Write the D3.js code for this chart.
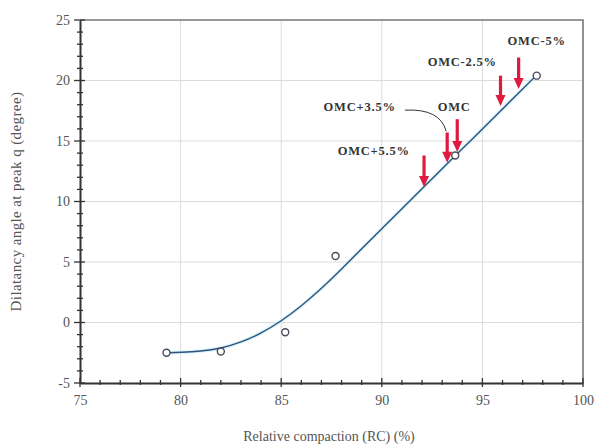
<!DOCTYPE html>
<html>
<head>
<meta charset="utf-8">
<script src="https://cdn.jsdelivr.net/npm/d3@7"></script>
<style>
  body { margin: 0; background: #fff; }
  text { font-family: "Liberation Serif", "DejaVu Serif", serif; }
</style>
</head>
<body>
<div id="chart"></div>
<script>
const w = 599;
const h = 448;
const margin = { top: 20, right: 16, bottom: 65, left: 80 };

// measured points
const rcValues = [79.3, 82.0, 85.2, 87.7, 93.65, 97.7];
const angleValues = [-2.5, -2.4, -0.8, 5.5, 13.8, 20.4];

// fitted curve
const fitRC = [79.3, 80, 81, 82, 83, 84, 85, 86, 87, 88, 89, 90, 91, 92, 93, 94, 95, 96, 97, 97.7];
const fitAngle = [-2.5, -2.47, -2.37, -2.15, -1.65, -0.9, 0.1, 1.35, 2.8, 4.4, 6.1, 7.75, 9.4, 11.05, 12.7, 14.35, 16.0, 17.65, 19.3, 20.45];

const xTicks = [75, 80, 85, 90, 95, 100];
const yTicks = [-5, 0, 5, 10, 15, 20, 25];

// arrows: label, x, top, tip, label position
const arrowLabels = ["OMC-5%", "OMC-2.5%", "OMC", "OMC+3.5%", "OMC+5.5%"];
const arrowX = [96.8, 95.9, 93.75, 93.25, 92.1];
const arrowTop = [21.9, 20.4, 16.8, 15.7, 13.8];
const arrowTip = [19.3, 17.9, 14.1, 13.2, 11.2];
const labelX = [97.7, 94.0, 93.6, 88.9, 89.6];
const labelY = [23.2, 21.4, 17.7, 17.7, 14.1];

const svg = d3
  .select("#chart")
  .append("svg")
  .attr("width", w)
  .attr("height", h);

const x = d3.scaleLinear().domain([75, 100]).range([margin.left, w - margin.right]);
const y = d3.scaleLinear().domain([-5, 25]).range([h - margin.bottom, margin.top]);

// grid
svg.append("g")
  .selectAll("line")
  .data(xTicks.slice(1, -1))
  .enter()
  .append("line")
  .attr("x1", (d) => x(d))
  .attr("x2", (d) => x(d))
  .attr("y1", y(25))
  .attr("y2", y(-5))
  .attr("stroke", "#dcdcdc")
  .attr("stroke-width", 1);
svg.append("g")
  .selectAll("line")
  .data(yTicks.slice(1, -1))
  .enter()
  .append("line")
  .attr("x1", x(75))
  .attr("x2", x(100))
  .attr("y1", (d) => y(d))
  .attr("y2", (d) => y(d))
  .attr("stroke", "#dcdcdc")
  .attr("stroke-width", 1);

// frame top/right
svg.append("path")
  .attr("d", `M${x(75)},${y(25)}H${x(100)}V${y(-5)}`)
  .attr("fill", "none")
  .attr("stroke", "#777")
  .attr("stroke-width", 1.6);

// axes
const xAxis = d3.axisBottom(x).tickValues(xTicks).tickSize(0).tickPadding(12);
const yAxis = d3.axisLeft(y).tickValues(yTicks).tickSize(0).tickPadding(10)
  .tickFormat((d) => String(d));
const gx = svg.append("g").attr("transform", `translate(0,${y(-5)})`).call(xAxis);
const gy = svg.append("g").attr("transform", `translate(${x(75)},0)`).call(yAxis);
[gx, gy].forEach((g) => {
  g.select(".domain").attr("stroke", "#333").attr("stroke-width", 2);
  g.selectAll("text")
    .attr("font-size", 14)
    .attr("fill", "#555")
    .style("font-family", "Liberation Serif");
});

// tick marks crossing axes
const minor = d3.range(75, 101, 1);
svg.append("g")
  .selectAll("line")
  .data(minor)
  .enter()
  .append("line")
  .attr("x1", (d) => x(d))
  .attr("x2", (d) => x(d))
  .attr("y1", (d) => y(-5) - (d % 5 === 0 ? 5 : 3))
  .attr("y2", (d) => y(-5) + (d % 5 === 0 ? 4 : 2))
  .attr("stroke", "#333")
  .attr("stroke-width", 1.3);
const minorY = d3.range(-5, 26, 1);
svg.append("g")
  .selectAll("line")
  .data(minorY)
  .enter()
  .append("line")
  .attr("x1", (d) => x(75) - (d % 5 === 0 ? 6 : 3))
  .attr("x2", (d) => x(75) + (d % 5 === 0 ? 5 : 3))
  .attr("y1", (d) => y(d))
  .attr("y2", (d) => y(d))
  .attr("stroke", "#333")
  .attr("stroke-width", 1.3);

// axis titles
svg.append("text")
  .attr("x", 329)
  .attr("y", 441)
  .attr("text-anchor", "middle")
  .attr("font-size", 14)
  .attr("fill", "#555")
  .text("Relative compaction (RC) (%)");
svg.append("text")
  .attr("transform", `translate(21,${(y(25) + y(-5)) / 2}) rotate(-90)`)
  .attr("text-anchor", "middle")
  .attr("font-size", 15)
  .attr("letter-spacing", 0.4)
  .attr("fill", "#555")
  .text("Dilatancy angle at peak q (degree)");

// fitted curve
const fit = fitRC.map((d, i) => [d, fitAngle[i]]);
const line = d3.line()
  .x((d) => x(d[0]))
  .y((d) => y(d[1]))
  .curve(d3.curveBasis);
svg.append("path")
  .datum(fit)
  .attr("d", line)
  .attr("fill", "none")
  .attr("stroke", "#b8eef5")
  .attr("stroke-width", 3.5)
  .attr("opacity", 0.6);
svg.append("path")
  .datum(fit)
  .attr("d", line)
  .attr("fill", "none")
  .attr("stroke", "#34507e")
  .attr("stroke-width", 1.4);

// points
svg.append("g")
  .selectAll("circle")
  .data(rcValues)
  .enter()
  .append("circle")
  .attr("cx", (d) => x(d))
  .attr("cy", (d, i) => y(angleValues[i]))
  .attr("r", 3.5)
  .attr("fill", "#fff")
  .attr("stroke", "#4a4a5a")
  .attr("stroke-width", 1.4);

// leader line for OMC+3.5%
svg.append("path")
  .attr("d", `M${x(91.15)},${y(17.55)} Q${x(92.9)},${y(17.7)} ${x(93.2)},${y(15.8)}`)
  .attr("fill", "none")
  .attr("stroke", "#333")
  .attr("stroke-width", 1);

// arrows
const red = "#e0193f";
arrowLabels.forEach((lab, i) => {
  const ax = x(arrowX[i]);
  const top = y(arrowTop[i]);
  const tip = y(arrowTip[i]);
  const head = 11;
  svg.append("line")
    .attr("x1", ax)
    .attr("x2", ax)
    .attr("y1", top)
    .attr("y2", tip - head + 1)
    .attr("stroke", red)
    .attr("stroke-width", 3.2);
  svg.append("path")
    .attr("d", `M${ax - 5},${tip - head}L${ax + 5},${tip - head}L${ax},${tip}Z`)
    .attr("fill", red);
  svg.append("text")
    .attr("x", x(labelX[i]))
    .attr("y", y(labelY[i]))
    .attr("text-anchor", "middle")
    .attr("dominant-baseline", "middle")
    .attr("font-size", 12.5)
    .attr("font-weight", "bold")
    .attr("letter-spacing", 0.8)
    .attr("fill", "#333")
    .text(lab);
});
</script>
</body>
</html>
